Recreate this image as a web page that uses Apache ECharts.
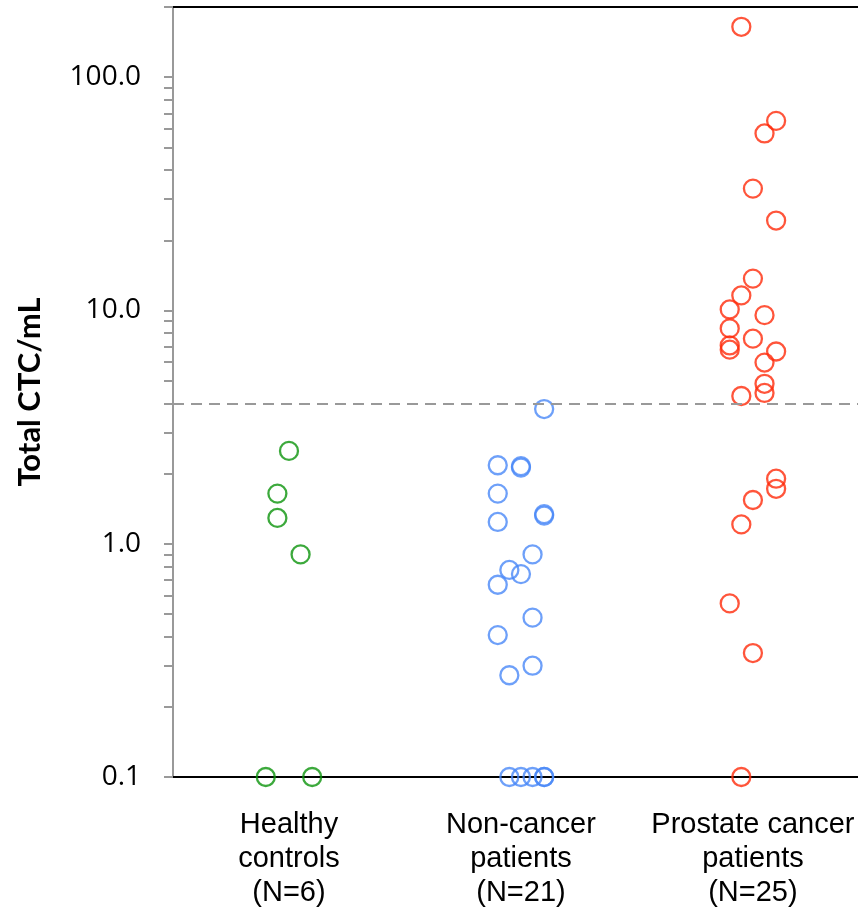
<!DOCTYPE html>
<html><head><meta charset="utf-8">
<script src="https://cdn.jsdelivr.net/npm/echarts@6/dist/echarts.min.js"></script>
<style>html,body{margin:0;padding:0;background:#fff}#c{width:858px;height:911px}</style>
</head><body><div id="c"></div>
<script>
const categories = ['Healthy\ncontrols\n(N=6)', 'Non-cancer\npatients\n(N=21)', 'Prostate cancer\npatients\n(N=25)'];
const healthyValues = [2.50, 1.64, 1.29, 0.90, 0.1, 0.1];
const healthyJitter = [0, -1, -1, 1, -2, 2];
const nonCancerValues = [3.78, 2.17, 2.12, 2.15, 1.64, 1.32, 1.34, 1.24, 0.90, 0.772, 0.741, 0.667, 0.482, 0.406, 0.300, 0.273, 0.1, 0.1, 0.1, 0.1, 0.1];
const nonCancerJitter = [2, -2, 0, 0, -2, 2, 2, -2, 1, -1, 0, -2, 1, -2, 1, -1, -1, 0, 1, 2, 2];
const prostateValues = [164.5, 65, 57.4, 33.3, 24.3, 13.7, 11.6, 10.1, 9.55, 8.38, 7.57, 7.08, 6.79, 6.67, 5.98, 4.85, 4.43, 4.30, 1.90, 1.72, 1.54, 1.21, 0.555, 0.340, 0.1];
const prostateJitter = [-1, 2, 1, 0, 2, 0, -1, -2, 1, -2, 0, -2, -2, 2, 1, 1, 1, -1, 2, 2, 0, -1, -2, 0, -1];
const cutoff = 4.0;
const yTickValues = [0.1,0.2,0.3,0.4,0.5,0.6,0.7,0.8,0.9,1,2,3,4,5,6,7,8,9,10,20,30,40,50,60,70,80,90,100,200];
const colors = ['#0b930b', '#4a88f7', '#ff2a0a'];

const JSTEP = 0.05;
function pts(vals, jit, idx) {
  return vals.map((v, i) => [idx + 0.5 + jit[i] * JSTEP, v]);
}
const groups = [
  pts(healthyValues, healthyJitter, 0),
  pts(nonCancerValues, nonCancerJitter, 1),
  pts(prostateValues, prostateJitter, 2)
];

const chart = echarts.init(document.getElementById('c'));
const XMAX = 2.953;
chart.setOption({
  animation: false,
  grid: { left: 173, right: 0, top: 7, bottom: 134 },
  xAxis: [{
    type: 'value', min: 0, max: XMAX, position: 'bottom',
    axisLine: { show: true, onZero: false, lineStyle: { color: '#000', width: 2 } },
    axisTick: { show: false }, splitLine: { show: false },
    axisLabel: {
      customValues: [0.5, 1.5, 2.5],
      formatter: v => categories[Math.floor(v)],
      fontFamily: 'Liberation Sans', fontSize: 29, lineHeight: 34, color: '#000', margin: 31
    }
  }, {
    type: 'value', min: 0, max: XMAX, position: 'top',
    axisLine: { show: true, onZero: false, lineStyle: { color: '#000', width: 2 } },
    axisTick: { show: false }, axisLabel: { show: false }, splitLine: { show: false }
  }],
  yAxis: {
    type: 'log', logBase: 10, min: 0.1, max: 200,
    axisLine: { show: true, lineStyle: { color: '#999', width: 2 } },
    axisTick: { show: true, length: 9, customValues: yTickValues, lineStyle: { color: '#999', width: 2 } },
    minorTick: { show: false },
    splitLine: { show: false },
    axisLabel: {
      fontFamily: 'Open Sans', fontSize: 28, color: '#000', margin: 32,
      formatter: v => {
        const l = Math.log10(v);
        return Math.abs(l - Math.round(l)) < 1e-6 ? v.toFixed(1) : '';
      }
    },
    name: 'Total CTC/mL', nameLocation: 'middle', nameGap: 128,
    nameTextStyle: { fontFamily: 'Lato', fontWeight: 'bold', fontSize: 31, color: '#000' }
  },
  series: groups.map((g, i) => ({
    type: 'scatter', data: g, symbol: 'circle', symbolSize: 18,
    itemStyle: { color: 'rgba(0,0,0,0)', borderColor: colors[i], borderWidth: 2.3 },
    markLine: i === 0 ? {
      silent: true, symbol: 'none', label: { show: false },
      lineStyle: { color: '#999', type: [11, 7], width: 2 },
      data: [{ yAxis: cutoff }]
    } : undefined
  }))
});
</script>
</body></html>
